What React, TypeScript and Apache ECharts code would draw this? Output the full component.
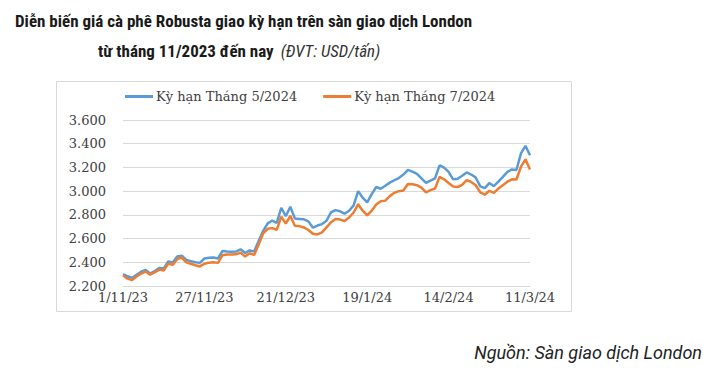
import React, { useEffect, useRef } from "react";
import * as echarts from "echarts";

const categories = [
  "1/11/23","2/11/23","3/11/23","6/11/23","7/11/23","8/11/23","9/11/23","10/11/23","13/11/23","14/11/23","15/11/23","16/11/23","17/11/23","20/11/23","21/11/23","22/11/23","23/11/23","24/11/23","27/11/23","28/11/23","29/11/23","30/11/23",
  "1/12/23","4/12/23","5/12/23","6/12/23","7/12/23","8/12/23","11/12/23","12/12/23","13/12/23","14/12/23","15/12/23","18/12/23","19/12/23","20/12/23","21/12/23","22/12/23","27/12/23","28/12/23","29/12/23",
  "2/1/24","3/1/24","4/1/24","5/1/24","8/1/24","9/1/24","10/1/24","11/1/24","12/1/24","15/1/24","16/1/24","17/1/24","18/1/24","19/1/24","22/1/24","23/1/24","24/1/24","25/1/24","26/1/24","29/1/24","30/1/24","31/1/24",
  "1/2/24","2/2/24","5/2/24","6/2/24","7/2/24","8/2/24","9/2/24","12/2/24","13/2/24","14/2/24","15/2/24","16/2/24","19/2/24","20/2/24","21/2/24","22/2/24","23/2/24","26/2/24","27/2/24","28/2/24","29/2/24",
  "1/3/24","4/3/24","5/3/24","6/3/24","7/3/24","8/3/24","11/3/24",
];

const may2024 = [
  2300, 2282, 2268, 2295, 2320, 2335, 2305, 2325, 2352, 2348,
  2408, 2398, 2448, 2455, 2420, 2410, 2400, 2395, 2432, 2438,
  2440, 2432, 2495, 2490, 2488, 2490, 2510, 2478, 2500, 2492,
  2580, 2665, 2728, 2752, 2732, 2860, 2788, 2868, 2770, 2766,
  2762, 2745, 2692, 2710, 2722, 2750, 2822, 2840, 2830, 2810,
  2835, 2880, 3000, 2945, 2905, 2975, 3035, 3020, 3045, 3072,
  3092, 3110, 3140, 3180, 3165, 3145, 3108, 3070, 3088, 3108,
  3218, 3198, 3162, 3100, 3105, 3130, 3158, 3140, 3115, 3040,
  3025, 3068, 3042, 3080, 3120, 3162, 3183, 3178, 3318, 3382,
  3302,
];

const jul2024 = [
  2290, 2262, 2250, 2280, 2305, 2322, 2295, 2315, 2338, 2330,
  2390, 2378, 2428, 2440, 2400, 2388, 2375, 2365, 2388, 2397,
  2400, 2395, 2460, 2466, 2466, 2467, 2482, 2448, 2476, 2462,
  2550, 2645, 2682, 2688, 2673, 2785, 2726, 2792, 2708, 2705,
  2694, 2672, 2640, 2635, 2652, 2694, 2738, 2765, 2760, 2748,
  2778, 2820, 2890, 2835, 2795, 2835, 2888, 2915, 2920, 2958,
  2986, 3000, 3005, 3060, 3058, 3050, 3030, 2990, 3008, 3022,
  3120, 3100, 3068, 3040, 3035, 3052, 3092, 3078, 3050, 2990,
  2970, 3003, 2986, 3022, 3050, 3080, 3100, 3098, 3206, 3268,
  3183,
];

const seriesNames = ["Kỳ hạn Tháng 5/2024", "Kỳ hạn Tháng 7/2024"];
const titleLine1 = "Diễn biến giá cà phê Robusta giao kỳ hạn trên sàn giao dịch London";
const titleLine2Bold = "từ tháng 11/2023 đến nay";
const titleLine2Unit = "(ĐVT: USD/tấn)";
const sourceText = "Nguồn: Sàn giao dịch London";

const Y_MIN = 2200;
const Y_MAX = 3600;
const Y_STEP = 200;

const serif = "'DejaVu Serif', 'Liberation Serif', serif";
const condensed = "'Roboto Condensed', 'Liberation Sans Narrow', 'DejaVu Sans Condensed', Roboto, sans-serif";

export default function App() {
  const ref = useRef<HTMLDivElement>(null);
  useEffect(() => {
    if (!ref.current) return;
    const chart = echarts.init(ref.current, null, { renderer: "svg" });
    chart.setOption({
      animation: false,
      backgroundColor: "#ffffff",
      title: [
        {
          text: titleLine1,
          left: 10,
          top: 7,
          textStyle: { fontFamily: condensed, fontWeight: "bold", fontSize: 17, color: "#1a1a1a" },
        },
        {
          text: "{b|" + titleLine2Bold + "}{i|" + titleLine2Unit + "}",
          left: 93,
          top: 37,
          textStyle: {
            rich: {
              b: { fontFamily: condensed, fontWeight: "bold", fontSize: 17, color: "#1a1a1a" },
              i: {
                fontFamily: condensed,
                fontStyle: "italic",
                fontWeight: "normal",
                fontSize: 17,
                color: "#333333",
                padding: [0, 0, 0, 7],
              },
            },
          },
        },
      ],
      legend: {
        left: 125,
        top: 90,
        padding: 0,
        icon: "rect",
        itemWidth: 28,
        itemHeight: 3,
        itemGap: 26,
        textStyle: { fontFamily: serif, fontSize: 13, color: "#404040", padding: [0, 0, 0, -2] },
        data: seriesNames,
      },
      grid: { left: 123, right: 174, top: 120, bottom: 84, containLabel: false },
      xAxis: {
        type: "category",
        data: categories,
        boundaryGap: false,
        axisLine: { show: true, lineStyle: { color: "#d9d9d9", width: 1 } },
        axisTick: { show: false },
        axisLabel: {
          interval: 17,
          fontFamily: serif,
          fontSize: 13,
          color: "#404040",
          margin: 5,
        },
        splitLine: { show: false },
      },
      yAxis: {
        type: "value",
        min: Y_MIN,
        max: Y_MAX,
        interval: Y_STEP,
        axisLine: { show: false },
        axisTick: { show: false },
        axisLabel: {
          fontFamily: serif,
          fontSize: 13,
          color: "#404040",
          margin: 17,
          formatter: (v: number) => String(v).replace(/\B(?=(\d{3})+(?!\d))/g, "."),
        },
        splitLine: { lineStyle: { color: "#d9d9d9", width: 1 } },
      },
      series: [
        {
          name: seriesNames[0],
          type: "line",
          data: may2024,
          symbol: "none",
          lineStyle: { color: "#5B9BD5", width: 2.5 },
          itemStyle: { color: "#5B9BD5" },
        },
        {
          name: seriesNames[1],
          type: "line",
          data: jul2024,
          symbol: "none",
          lineStyle: { color: "#ED7D31", width: 2.5 },
          itemStyle: { color: "#ED7D31" },
        },
      ],
      graphic: [
        {
          type: "rect",
          shape: { x: 56.5, y: 81.5, width: 515, height: 230 },
          style: { fill: "none", stroke: "#d9d9d9", lineWidth: 1 },
          silent: true,
          z: -1,
        },
        {
          type: "text",
          right: 2,
          top: 343,
          style: {
            text: sourceText,
            font: "italic 18px Roboto, sans-serif",
            fill: "#222222",
          },
        },
      ],
    });
    return () => chart.dispose();
  }, []);
  return <div ref={ref} style={{ position: "fixed", left: 0, top: 0, width: 704, height: 370 }} />;
}
